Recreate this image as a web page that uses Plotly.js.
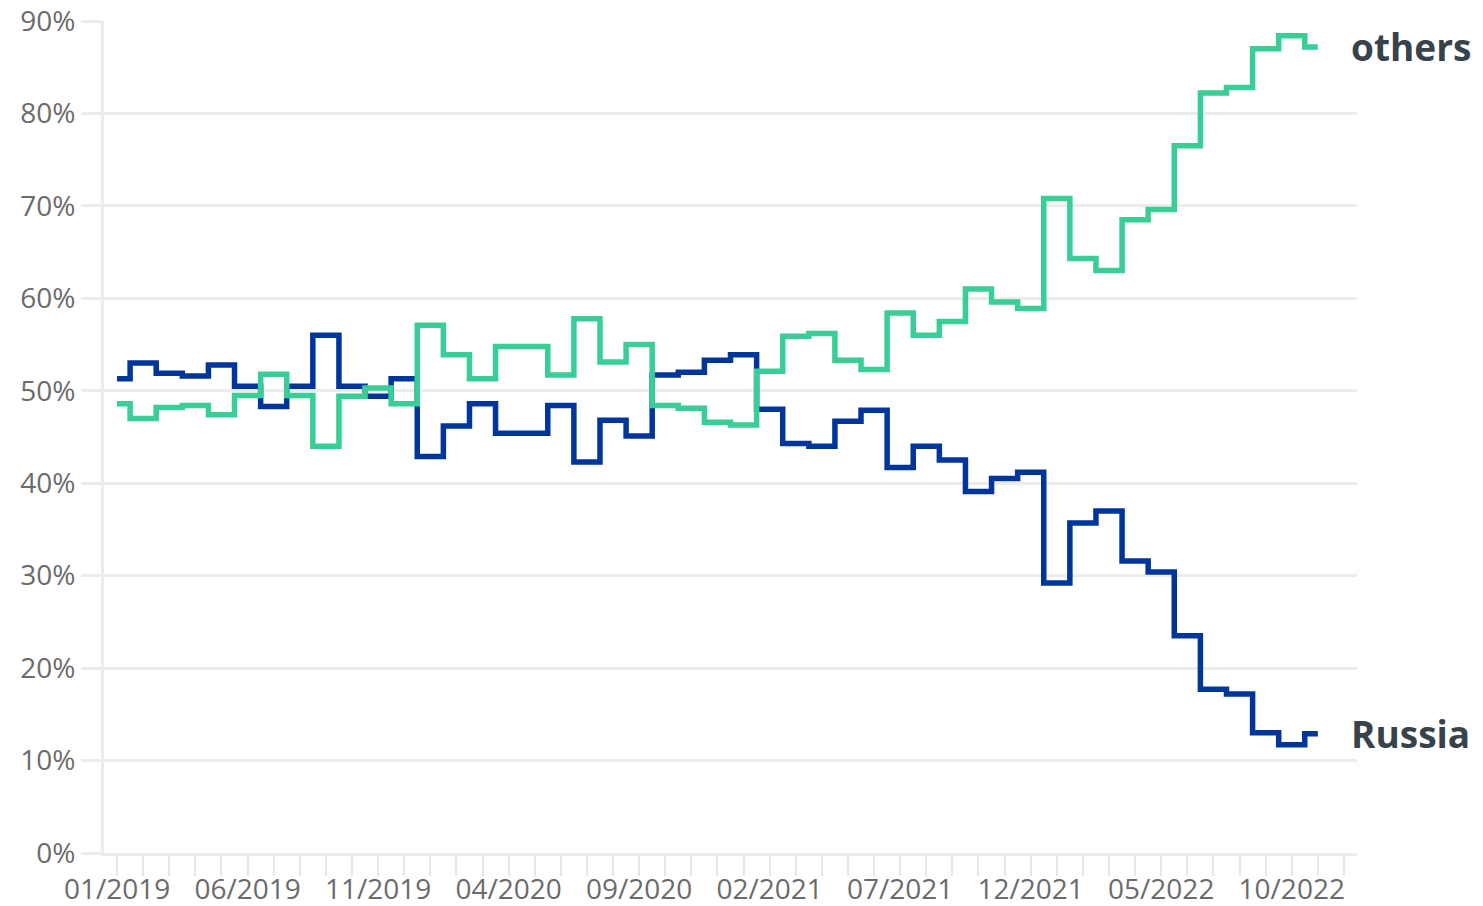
<!DOCTYPE html>
<html>
<head>
<meta charset="utf-8">
<script src="https://cdn.plot.ly/plotly-3.0.1.min.js"></script>
<style>
  html, body { margin: 0; padding: 0; background: #ffffff; }
  #chart { width: 1483px; height: 906px; }
</style>
</head>
<body>
<div id="chart"></div>
<script>
// Months of the x axis (monthly steps), 01/2019 .. 12/2022
const months = [
  "01/2019","02/2019","03/2019","04/2019","05/2019","06/2019","07/2019","08/2019","09/2019","10/2019","11/2019","12/2019",
  "01/2020","02/2020","03/2020","04/2020","05/2020","06/2020","07/2020","08/2020","09/2020","10/2020","11/2020","12/2020",
  "01/2021","02/2021","03/2021","04/2021","05/2021","06/2021","07/2021","08/2021","09/2021","10/2021","11/2021","12/2021",
  "01/2022","02/2022","03/2022","04/2022","05/2022","06/2022","07/2022","08/2022","09/2022","10/2022","11/2022","12/2022"
];
const labelEvery = 5;

// Share of Russia (%) per month, 01/2019 .. 11/2022
const russia = [
  51.3, 53.0, 51.9, 51.6, 52.8, 50.5, 48.3, 50.5, 56.0, 50.5, 49.4, 51.3,
  42.9, 46.2, 48.6, 45.4, 45.4, 48.4, 42.3, 46.8, 45.1, 51.7, 52.0, 53.3,
  53.9, 48.0, 44.3, 44.0, 46.7, 47.9, 41.7, 44.0, 42.5, 39.1, 40.5, 41.2,
  29.2, 35.7, 37.0, 31.6, 30.4, 23.5, 17.7, 17.2, 13.0, 11.7, 12.9
];
// Share of others (%) per month, 01/2019 .. 11/2022
const others = [
  48.6, 47.0, 48.2, 48.4, 47.4, 49.5, 51.8, 49.5, 44.0, 49.4, 50.3, 48.6,
  57.1, 53.9, 51.3, 54.8, 54.8, 51.7, 57.8, 53.1, 55.0, 48.4, 48.1, 46.6,
  46.3, 52.1, 55.9, 56.2, 53.3, 52.3, 58.4, 56.0, 57.5, 61.0, 59.6, 58.9,
  70.8, 64.3, 63.0, 68.5, 69.6, 76.5, 82.2, 82.8, 87.0, 88.4, 87.2
];
const seriesNames = ["Russia", "others"];
const yTicks = [0, 10, 20, 30, 40, 50, 60, 70, 80, 90];

const idx = months.map((m, i) => i);
const xR = russia.map((v, i) => i);
const xO = others.map((v, i) => i);

const blue = "#00369c";
const green = "#38ce96";
const grid = "#ececec";

const traces = [
  { x: xR, y: russia, name: seriesNames[0], type: "scatter", mode: "lines",
    line: { shape: "hvh", color: blue, width: 5.5 }, hoverinfo: "skip" },
  { x: xO, y: others, name: seriesNames[1], type: "scatter", mode: "lines",
    line: { shape: "hvh", color: green, width: 5.5 }, hoverinfo: "skip" }
];

const lastR = russia.length - 1, lastO = others.length - 1;

const layout = {
  width: 1483, height: 906,
  margin: { l: 104, r: 126, t: 21, b: 53 },
  paper_bgcolor: "#ffffff", plot_bgcolor: "#ffffff",
  showlegend: false,
  font: { family: "Open Sans, sans-serif", color: "#6b6b6b", size: 28 },
  xaxis: {
    type: "linear",
    range: [-0.5, months.length - 0.5],
    tickmode: "array",
    tickvals: idx,
    ticktext: months.map((m, i) => (i % labelEvery === 0 ? m : "")),
    ticks: "outside", ticklen: 20, tickwidth: 2, tickcolor: "#e6e6e6",
    ticklabelstandoff: -11,
    showgrid: false, zeroline: false,
    showline: true, linecolor: grid, linewidth: 3,
    tickfont: { family: "Open Sans, sans-serif", size: 28, color: "#6b6b6b" },
    fixedrange: true
  },
  yaxis: {
    range: [0, 90],
    tickmode: "array",
    tickvals: yTicks,
    ticktext: yTicks.map(v => v + "%"),
    ticks: "outside", ticklen: 20, tickwidth: 3, tickcolor: grid,
    showgrid: true, gridcolor: grid, gridwidth: 3,
    zeroline: false,
    showline: true, linecolor: grid, linewidth: 3,
    tickfont: { family: "Open Sans, sans-serif", size: 28, color: "#6b6b6b" },
    fixedrange: true
  },
  annotations: [
    { x: xO[lastO], y: others[lastO], xref: "x", yref: "y", text: "<b>" + seriesNames[1] + "</b>",
      showarrow: false, xanchor: "left", yanchor: "middle", xshift: 31,
      font: { family: "Open Sans, sans-serif", size: 37, color: "#37424b" } },
    { x: xR[lastR], y: russia[lastR], xref: "x", yref: "y", text: "<b>" + seriesNames[0] + "</b>",
      showarrow: false, xanchor: "left", yanchor: "middle", xshift: 31,
      font: { family: "Open Sans, sans-serif", size: 37, color: "#37424b" } }
  ]
};

Plotly.newPlot("chart", traces, layout, { displayModeBar: false, staticPlot: true });
</script>
</body>
</html>
